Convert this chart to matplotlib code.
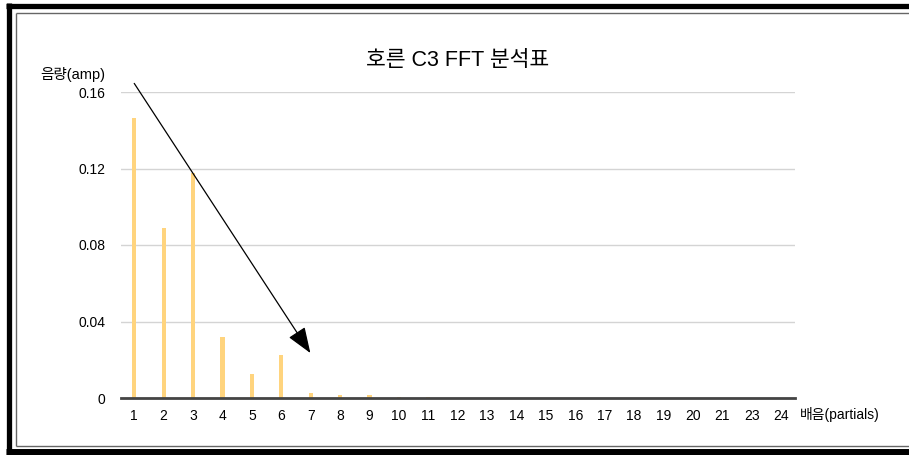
import matplotlib
matplotlib.use("Agg")
import matplotlib.pyplot as plt
from matplotlib.lines import Line2D

plt.rcParams['font.family'] = ['Liberation Sans', 'Noto Sans CJK KR', 'DejaVu Sans']

# partial numbers (22 is missing in the original)
partials = ['1', '2', '3', '4', '5', '6', '7', '8', '9', '10', '11', '12',
            '13', '14', '15', '16', '17', '18', '19', '20', '21', '23', '24']
amp = [0.1464, 0.0889, 0.1176, 0.0319, 0.0125, 0.0225, 0.0028, 0.0017,
       0.0014, 0.0007, 0.0006, 0, 0, 0, 0, 0, 0, 0, 0, 0, 0, 0, 0]
yticks = [0, 0.04, 0.08, 0.12, 0.16]
ytick_labels = ['0', '0.04', '0.08', '0.12', '0.16']

W, H = 909, 455
fig = plt.figure(figsize=(W / 100, H / 100), dpi=100)
ax = fig.add_axes([121 / W, 1 - 398 / H, (795 - 121) / W, (398 - 92) / H])

x = list(range(len(partials)))
ax.bar(x, amp, width=0.14, color='#FFD47E', zorder=2)

ax.set_xlim(-0.45, len(partials) - 1 + 0.47)
ax.set_ylim(0, 0.16)
ax.set_xticks(x)
ax.set_xticklabels(partials, fontsize=10)
ax.set_yticks(yticks)
ax.set_yticklabels(ytick_labels, fontsize=10)
ax.tick_params(length=0, pad=8)
ax.tick_params(axis='y', pad=11)

ax.grid(axis='y', color='#d4d4d4', linewidth=1, zorder=0)
for s in ['top', 'right', 'left']:
    ax.spines[s].set_visible(False)
ax.spines['bottom'].set_color('#444444')
ax.spines['bottom'].set_linewidth(2)
ax.spines['bottom'].set_zorder(3)

# trend arrow
ax.annotate('', xy=(5.99, 0.0235), xytext=(0, 0.1645),
            arrowprops=dict(arrowstyle='-|>,head_length=1.6,head_width=0.6',
                            color='black', linewidth=0.9, shrinkA=0, shrinkB=0),
            annotation_clip=False)

fig.text(458 / W, 1 - 60 / H, '호른 C3 FFT 분석표', fontsize=15.5, ha='center', va='center')
fig.text(40 / W, 1 - 75 / H, '음량(amp)', fontsize=10.5, ha='left', va='center')
fig.text(800 / W, 1 - 414 / H, '배음(partials)', fontsize=10, ha='left', va='center')

# picture frame
def hline(y, x0, x1, lw, color):
    fig.add_artist(Line2D([x0 / W, x1 / W], [1 - y / H, 1 - y / H], lw=lw, color=color,
                          solid_capstyle='butt'))

def vline(xp, y0, y1, lw, color):
    fig.add_artist(Line2D([xp / W, xp / W], [1 - y0 / H, 1 - y1 / H], lw=lw, color=color,
                          solid_capstyle='butt'))

hline(5.5, 6, W, 3.8, 'black')
vline(8.5, 3, H, 3.8, 'black')
hline(451.5, 6, W, 5.0, 'black')
hline(12.5, 15.5, W, 1.0, '#666666')
vline(15.5, 12.5, 445.5, 1.0, '#666666')
hline(445.5, 15.5, W, 1.0, '#666666')

fig.savefig('out.png', dpi=100)
